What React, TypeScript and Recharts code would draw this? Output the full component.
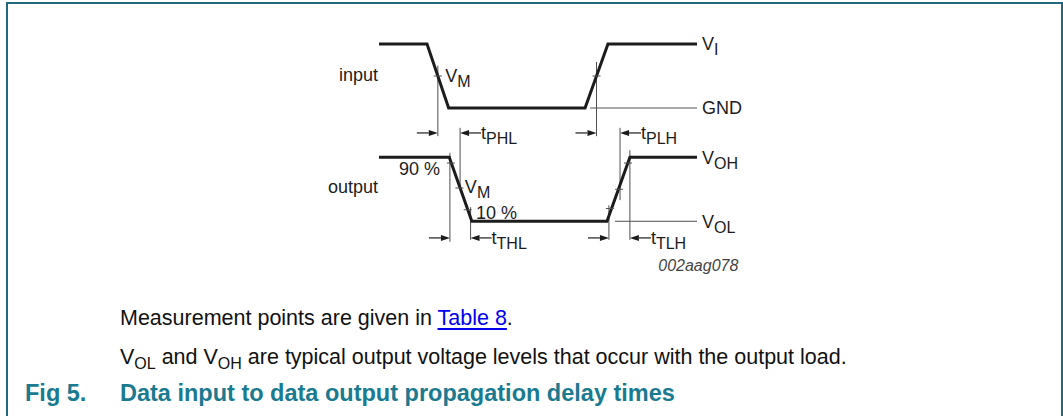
import { ComposedChart, Line, XAxis, YAxis, ReferenceLine, ReferenceDot } from 'recharts';

// time axis (arbitrary units), levels normalised 0 = low, 1 = high
const inputTime = [0, 15.1, 21.9, 64.8, 72.0, 100];
const inputLevel = [1, 1, 0, 0, 1, 1];
const outputTime = [0, 22.1, 29.2, 71.7, 78.9, 100];
const outputLevel = [1, 1, 0, 0, 1, 1];

// small cross marks where the edges pass the measurement levels
const inputMarkTime = [18.5, 68.4];
const inputMarkLevel = [0.5, 0.5];
const outputMarkTime = [22.6, 25.3, 27.9, 72.6, 75.5, 78.3];
const outputMarkLevel = [0.91, 0.52, 0.18, 0.2, 0.5, 0.91];

// thin vertical measurement guides
const guideAxis = ['in', 'in', 'out', 'out', 'out', 'out', 'out', 'out'];
const guideTime = [18.5, 68.4, 22.3, 25.5, 28.8, 72.3, 75.8, 78.9];
const guideTop = [0.66, 0.72, 1.07, 1.46, 0.22, 0.25, 1.46, 1.11];
const guideBottom = [-0.44, -0.44, -0.32, 0.49, -0.29, -0.29, 0.33, -0.29];

// delay times between guides
const delayName = ['PHL', 'PLH', 'THL', 'TLH'];
const delayAxis = ['in', 'in', 'out', 'out'];
const delayStart = [18.5, 68.4, 22.3, 72.3];
const delayEnd = [25.5, 75.8, 28.8, 78.9];
const delayLevel = [-0.39, -0.39, -0.26, -0.26];

// thin level lines (GND, VOL)
const levelLineAxis = ['in', 'out'];
const levelLineFrom = [66.4, 74.2];
const levelLineTo = [100, 100];

// level names at the right end
const levelName = ['V', 'GND', 'V', 'V'];
const levelSub = ['I', '', 'OH', 'OL'];
const levelAxis = ['in', 'in', 'out', 'out'];
const levelValue = [1, 0, 1, 0];
const levelLabelTime = 101.6;

const W = 1063;
const H = 416;
const FONT = '"Liberation Sans", Arial, Helvetica, sans-serif';
const INK = '#1c1c1c';
const THIN = '#505050';
const TEAL = '#1a7a90';

const inputData = inputTime.map((t, i) => ({ t, v: inputLevel[i] }));
const outputData = outputTime.map((t, i) => ({ t, v: outputLevel[i] }));

function Txt({ cx, cy, text, sub, anchor = 'start', size = 18, italic = false, fill = INK }: any) {
  return (
    <text x={cx} y={cy + size * 0.36} textAnchor={anchor} fontFamily={FONT} fontSize={size}
      fontStyle={italic ? 'italic' : 'normal'} fill={fill}>
      <tspan>{text}</tspan>
      {sub ? <tspan dy={5} fontSize={16}>{sub}</tspan> : null}
    </text>
  );
}

function Arrow({ cx, cy, dir }: any) {
  const len = 21, head = 9, hw = 3;
  return (
    <g>
      <line x1={cx - dir * len} y1={cy} x2={cx - dir * head} y2={cy} stroke={INK} strokeWidth={1.2} />
      <path d={`M${cx},${cy} L${cx - dir * head},${cy - hw} L${cx - dir * head},${cy + hw} Z`} fill={INK} />
    </g>
  );
}

function Mark({ cx, cy }: any) {
  return <line x1={cx - 4} y1={cy} x2={cx + 4} y2={cy} stroke={THIN} strokeWidth={1} />;
}

export default function App() {
  return (
    <div style={{ position: 'absolute', left: 0, top: 0, width: W, height: H, overflow: 'hidden', background: '#fff', fontFamily: FONT }}>
      <div style={{ position: 'absolute', left: 6, top: 2, width: 1053, height: 440, borderTop: `2px solid #22687c`, borderLeft: `2px solid #22687c`, borderRight: `2px solid #22687c` }} />

      <div style={{ position: 'absolute', left: 0, top: 0 }}>
        <ComposedChart width={W} height={300} margin={{ top: 12, bottom: 32, left: 299.5, right: 254.7 }}>
          <XAxis type="number" dataKey="t" domain={[-25, 135]} allowDataOverflow hide />
          <YAxis yAxisId="in" type="number" domain={[-2.5, 1.5]} allowDataOverflow hide />
          <YAxis yAxisId="out" type="number" domain={[-0.73, 3.27]} allowDataOverflow hide />

          {guideTime.map((t, i) => (
            <ReferenceLine key={`g${i}`} yAxisId={guideAxis[i]} stroke={THIN} strokeWidth={1}
              segment={[{ x: t, y: guideTop[i] }, { x: t, y: guideBottom[i] }]} />
          ))}
          {levelLineFrom.map((f, i) => (
            <ReferenceLine key={`l${i}`} yAxisId={levelLineAxis[i]} stroke={THIN} strokeWidth={1}
              segment={[{ x: f, y: 0 }, { x: levelLineTo[i], y: 0 }]} />
          ))}

          <Line data={inputData} dataKey="v" yAxisId="in" type="linear" stroke={INK} strokeWidth={3}
            strokeLinejoin="miter" dot={false} isAnimationActive={false} />
          <Line data={outputData} dataKey="v" yAxisId="out" type="linear" stroke={INK} strokeWidth={3}
            strokeLinejoin="miter" dot={false} isAnimationActive={false} />

          {inputMarkTime.map((t, i) => (
            <ReferenceDot key={`mi${i}`} yAxisId="in" x={t} y={inputMarkLevel[i]} shape={(p: any) => <Mark {...p} />} />
          ))}
          {outputMarkTime.map((t, i) => (
            <ReferenceDot key={`mo${i}`} yAxisId="out" x={t} y={outputMarkLevel[i]} shape={(p: any) => <Mark {...p} />} />
          ))}

          {delayName.map((n, i) => (
            <ReferenceDot key={`da${i}`} yAxisId={delayAxis[i]} x={delayStart[i]} y={delayLevel[i]}
              shape={(p: any) => <Arrow cx={p.cx} cy={p.cy} dir={1} />} />
          ))}
          {delayName.map((n, i) => (
            <ReferenceDot key={`db${i}`} yAxisId={delayAxis[i]} x={delayEnd[i]} y={delayLevel[i]}
              shape={(p: any) => (
                <g>
                  <Arrow cx={p.cx} cy={p.cy} dir={-1} />
                  <Txt cx={p.cx + 21} cy={p.cy} text="t" sub={n} />
                </g>
              )} />
          ))}

          {levelName.map((n, i) => (
            <ReferenceDot key={`ln${i}`} yAxisId={levelAxis[i]} x={levelLabelTime} y={levelValue[i]}
              shape={(p: any) => <Txt cx={p.cx} cy={p.cy} text={n} sub={levelSub[i]} />} />
          ))}

          <ReferenceDot yAxisId="in" x={-0.3} y={0.52} shape={(p: any) => <Txt cx={p.cx} cy={p.cy} text="input" anchor="end" />} />
          <ReferenceDot yAxisId="out" x={-0.3} y={0.55} shape={(p: any) => <Txt cx={p.cx} cy={p.cy} text="output" anchor="end" />} />
          <ReferenceDot yAxisId="in" x={20.8} y={0.5} shape={(p: any) => <Txt cx={p.cx} cy={p.cy} text="V" sub="M" />} />
          <ReferenceDot yAxisId="out" x={27.0} y={0.55} shape={(p: any) => <Txt cx={p.cx} cy={p.cy} text="V" sub="M" />} />
          <ReferenceDot yAxisId="out" x={19.2} y={0.82} shape={(p: any) => <Txt cx={p.cx} cy={p.cy} text="90 %" anchor="end" />} />
          <ReferenceDot yAxisId="out" x={30.5} y={0.13} shape={(p: any) => <Txt cx={p.cx} cy={p.cy} text="10 %" />} />
          <ReferenceDot yAxisId="out" x={113} y={-0.68} shape={(p: any) => <Txt cx={p.cx} cy={p.cy} text="002aag078" anchor="end" size={16} italic fill="#444" />} />
        </ComposedChart>
      </div>

      <div style={{ position: 'absolute', left: 120, top: 306, fontSize: 21.5, lineHeight: '24px', color: '#111', whiteSpace: 'nowrap' }}>
        Measurement points are given in{' '}
        <span style={{ color: '#0000ee', textDecoration: 'underline', textDecorationThickness: 2, textUnderlineOffset: 3 }}>Table 8</span>.
      </div>
      <div style={{ position: 'absolute', left: 120, top: 345, fontSize: 21.5, lineHeight: '24px', color: '#111', whiteSpace: 'nowrap' }}>
        V<sub style={{ fontSize: 16, verticalAlign: '-5px', lineHeight: 0 }}>OL</sub> and V<sub style={{ fontSize: 16, verticalAlign: '-5px', lineHeight: 0 }}>OH</sub> are typical output voltage levels that occur with the output load.
      </div>
      <div style={{ position: 'absolute', left: 25, top: 380, fontSize: 23.5, lineHeight: '26px', fontWeight: 'bold', color: TEAL, whiteSpace: 'nowrap' }}>
        Fig 5.
      </div>
      <div style={{ position: 'absolute', left: 120, top: 380, fontSize: 23.5, lineHeight: '26px', fontWeight: 'bold', color: TEAL, whiteSpace: 'nowrap' }}>
        Data input to data output propagation delay times
      </div>
    </div>
  );
}
